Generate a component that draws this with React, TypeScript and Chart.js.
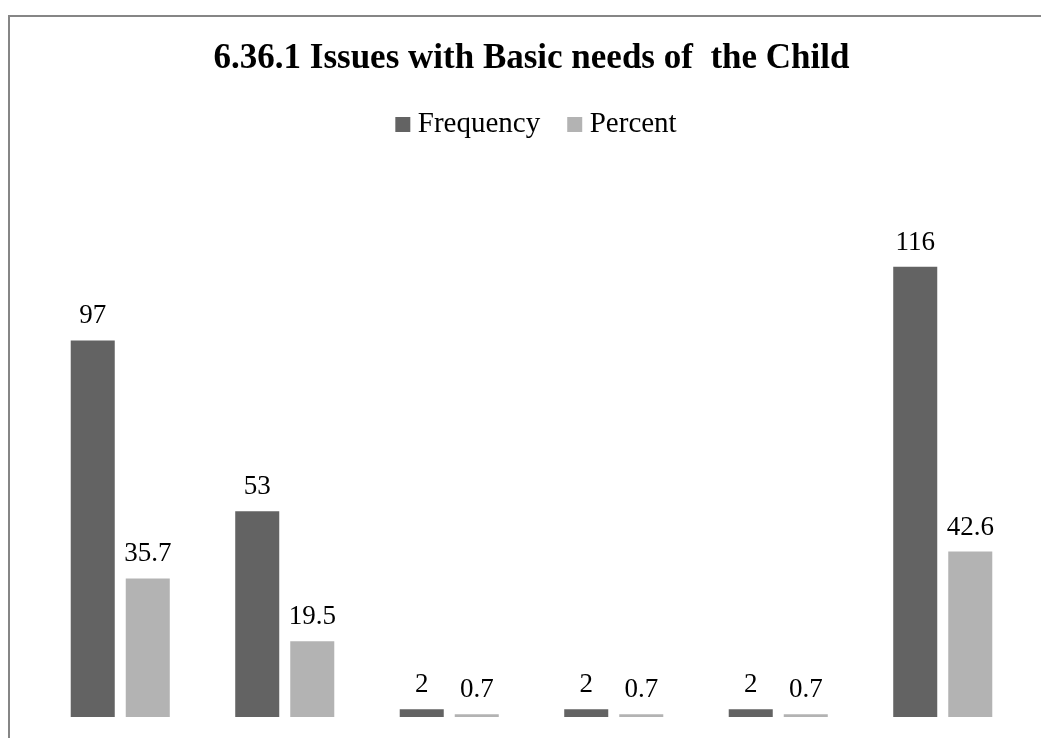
import React, { useEffect, useRef } from "react";
import { Chart, registerables } from "chart.js";

Chart.register(...registerables);

// Categories of the child's basic-need issues (axis labels are outside the visible frame)
const categories = ["Food", "Clothing", "Shelter", "Health", "Education", "None"];
const frequency = [97, 53, 2, 2, 2, 116];
const percent = [35.7, 19.5, 0.7, 0.7, 0.7, 42.6];
const seriesNames = ["Frequency", "Percent"];
const titleText = "6.36.1 Issues with Basic needs of  the Child";

const SERIF = "'Liberation Serif', 'Times New Roman', serif";

// Writes each bar's value above it
const valueLabels = {
  id: "valueLabels",
  afterDatasetsDraw(chart: any) {
    const ctx = chart.ctx;
    ctx.save();
    ctx.font = `27px ${SERIF}`;
    ctx.fillStyle = "#000";
    ctx.textAlign = "center";
    ctx.textBaseline = "alphabetic";
    chart.data.datasets.forEach((ds: any, i: number) => {
      const meta = chart.getDatasetMeta(i);
      meta.data.forEach((bar: any, j: number) => {
        ctx.fillText(String(ds.data[j]), bar.x, bar.y - 17);
      });
    });
    ctx.restore();
  },
};

// Nudges the legend row so it is centred without its trailing item padding
const legendNudge = {
  id: "legendNudge",
  afterLayout(chart: any) {
    if (chart.legend) {
      chart.legend.left += 8;
      chart.legend.right += 8;
    }
  },
};

export default function App() {
  const ref = useRef<HTMLCanvasElement | null>(null);

  useEffect(() => {
    if (!ref.current) return;
    const chart = new Chart(ref.current, {
      type: "bar",
      data: {
        labels: categories,
        datasets: [
          {
            label: seriesNames[0],
            data: frequency,
            backgroundColor: "#636363",
            borderWidth: 0,
          },
          {
            label: seriesNames[1],
            data: percent,
            backgroundColor: "#b3b3b3",
            borderWidth: 0,
          },
        ],
      },
      options: {
        responsive: false,
        animation: false,
        events: [],
        layout: { padding: { left: 28, right: 27, top: 0, bottom: 21 } },
        datasets: {
          bar: { categoryPercentage: 0.669, barPercentage: 0.8 },
        },
        scales: {
          x: { display: false },
          y: { display: false, min: 0, max: 146.3 },
        },
        plugins: {
          title: {
            display: true,
            text: titleText,
            color: "#000",
            font: { family: SERIF, size: 35, weight: "bold", lineHeight: 1 },
            padding: { top: 24, bottom: 0 },
          },
          legend: {
            display: true,
            position: "top",
            labels: {
              color: "#000",
              font: { family: SERIF, size: 29 },
              usePointStyle: true,
              pointStyle: "rect",
              boxWidth: 1,
              boxHeight: 15,
              padding: 34,
            },
          },
          tooltip: { enabled: false },
        },
      },
      plugins: [valueLabels, legendNudge],
    });
    return () => chart.destroy();
  }, []);

  return (
    <div
      style={{
        position: "absolute",
        left: 0,
        top: 0,
        width: 1041,
        height: 738,
        overflow: "hidden",
        background: "#fff",
      }}
    >
      <div
        style={{
          position: "absolute",
          left: 8,
          top: 15,
          width: 1100,
          height: 800,
          borderTop: "2px solid #868686",
          borderLeft: "2px solid #868686",
        }}
      >
        <canvas ref={ref} width={1042} height={721} style={{ display: "block" }} />
      </div>
    </div>
  );
}
